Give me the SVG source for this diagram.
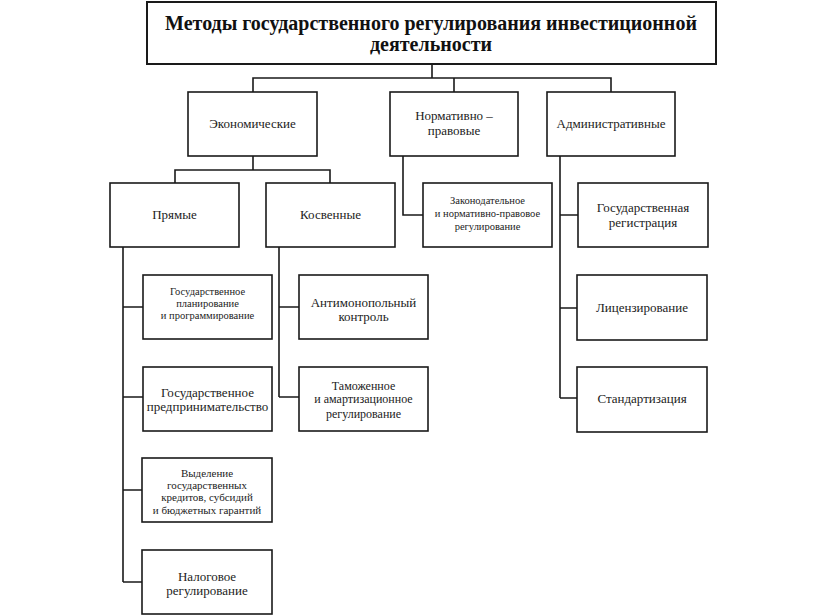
<svg xmlns="http://www.w3.org/2000/svg" width="826" height="616" viewBox="0 0 826 616">
<style>
.box{fill:#fff;stroke:#1a1a1a;stroke-width:1.6}
.tbox{fill:#fff;stroke:#1a1a1a;stroke-width:2}
.ln{fill:none;stroke:#1a1a1a;stroke-width:1.6}
text{font-family:'Liberation Serif',serif;fill:#222;text-anchor:middle}
.t{font-size:20px;font-weight:bold;fill:#111}
.m{font-size:13px}
.s{font-size:10.5px}
.s11{font-size:11px}
.s12{font-size:12px}
</style>
<rect width="826" height="616" fill="#fff"/>
<g id="connectors">
<path class="ln" d="M432 64V78M253 92V78H611V92M454 78V92"/>
<path class="ln" d="M253 156V170M175 183V170H330V183"/>
<path class="ln" d="M403 156V215H423"/>
<path class="ln" d="M560 156V398M560 215H578M560 308H577M560 398H577"/>
<path class="ln" d="M123 247V582M123 307H143M123 397H143M123 490H142M123 582H142"/>
<path class="ln" d="M279 247V397M279 307H299M279 397H299"/>
</g>
<g font-family="Liberation Serif, serif">
<g id="title">
<rect class="tbox" x="147" y="2" width="569" height="62"/>
<text class="t" x="431" y="30">Методы государственного регулирования инвестиционной</text>
<text class="t" x="431" y="51">деятельности</text>
</g>
<g id="economic">
<rect class="box" x="188" y="92" width="129" height="64"/>
<text class="m" x="252.5" y="128">Экономические</text>
</g>
<g id="normative">
<rect class="box" x="390" y="92" width="128" height="64"/>
<text class="m" x="454" y="120">Нормативно –</text>
<text class="m" x="454" y="135">правовые</text>
</g>
<g id="admin">
<rect class="box" x="547" y="92" width="128" height="64"/>
<text class="m" x="611" y="128">Административные</text>
</g>
<g id="direct">
<rect class="box" x="110" y="183" width="129" height="64"/>
<text class="m" x="174.5" y="219">Прямые</text>
</g>
<g id="indirect">
<rect class="box" x="266" y="183" width="129" height="64"/>
<text class="m" x="330.5" y="219">Косвенные</text>
</g>
<g id="legislative">
<rect class="box" x="423" y="183" width="129" height="64"/>
<text class="s" x="487.5" y="204">Законодательное</text>
<text class="s" x="487.5" y="217">и нормативно-правовое</text>
<text class="s" x="487.5" y="230">регулирование</text>
</g>
<g id="registration">
<rect class="box" x="578" y="183" width="130" height="64"/>
<text class="m" x="643" y="212">Государственная</text>
<text class="m" x="643" y="227">регистрация</text>
</g>
<g id="planning">
<rect class="box" x="143" y="275" width="129" height="64"/>
<text class="s" x="207.5" y="295">Государственное</text>
<text class="s" x="207.5" y="307">планирование</text>
<text class="s" x="207.5" y="319">и программирование</text>
</g>
<g id="antimonopoly">
<rect class="box" x="299" y="275" width="129" height="64"/>
<text class="m" x="363.5" y="307">Антимонопольный</text>
<text class="m" x="363.5" y="321">контроль</text>
</g>
<g id="licensing">
<rect class="box" x="577" y="275" width="130" height="65"/>
<text class="m" x="642" y="312">Лицензирование</text>
</g>
<g id="enterprise">
<rect class="box" x="143" y="367" width="129" height="64"/>
<text class="m" x="207.5" y="397">Государственное</text>
<text class="m" x="207.5" y="411">предпринимательство</text>
</g>
<g id="customs">
<rect class="box" x="299" y="367" width="129" height="64"/>
<text class="s12" x="363.5" y="390">Таможенное</text>
<text class="s12" x="363.5" y="403">и амартизационное</text>
<text class="s12" x="363.5" y="418">регулирование</text>
</g>
<g id="standardization">
<rect class="box" x="577" y="367" width="130" height="65"/>
<text class="m" x="642" y="403">Стандартизация</text>
</g>
<g id="credits">
<rect class="box" x="142" y="458" width="130" height="64"/>
<text class="s11" x="207" y="477">Выделение</text>
<text class="s11" x="207" y="489">государственных</text>
<text class="s11" x="207" y="501">кредитов, субсидий</text>
<text class="s11" x="207" y="514">и бюджетных гарантий</text>
</g>
<g id="tax">
<rect class="box" x="142" y="550" width="130" height="64"/>
<text class="m" x="207" y="581">Налоговое</text>
<text class="m" x="207" y="595">регулирование</text>
</g>
</g>
</svg>
